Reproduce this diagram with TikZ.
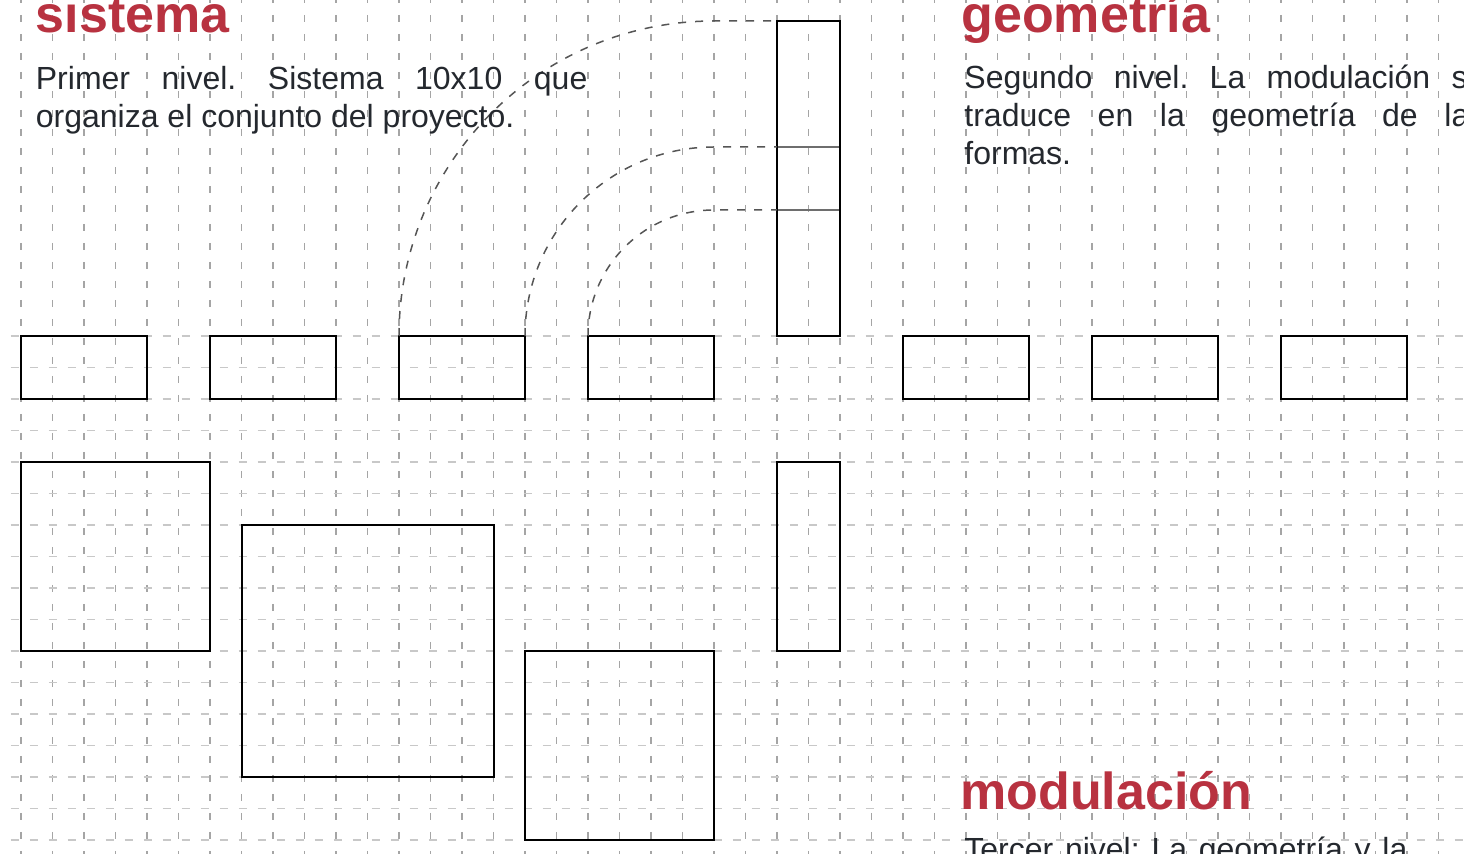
\documentclass[tikz,border=0pt]{standalone}
\usepackage{fontspec}
\setmainfont{Liberation Sans}
\frenchspacing
\definecolor{titlered}{RGB}{184,50,64}
\definecolor{ink}{RGB}{36,40,46}
\definecolor{vgrid}{RGB}{165,165,165}
\definecolor{hgrid}{RGB}{200,200,200}
\definecolor{arcgray}{RGB}{85,85,85}
\definecolor{divgray}{RGB}{110,110,110}
% one module of the 10x10 grid
\newcommand\cel{15.75pt}

\begin{document}
\begin{tikzpicture}[x=0.5pt,y=-0.5pt,
  vline/.style={vgrid, line width=0.6pt, dash pattern=on 3.5pt off 6pt},
  hline/.style={hgrid, line width=0.6pt, dash pattern=on 4pt off 5.5pt},
  module/.style 2 args={draw=black, line width=1pt, inner sep=0pt, outer sep=0pt,
    anchor=north west, minimum width={#1*\cel}, minimum height={#2*\cel}},
  arcline/.style={arcgray, line width=0.75pt, dash pattern=on 4pt off 4.5pt},
  divider/.style={divgray, line width=0.7pt},
  title/.style={anchor=base west, inner sep=0pt, text=titlered,
    font=\bfseries\fontsize{26}{30}\selectfont},
  body/.style={anchor=base west, inner sep=0pt, text=ink,
    font=\fontsize{16}{19}\selectfont, align=justify, text width=#1},
  bodyline/.style={anchor=base west, inner sep=0pt, text=ink,
    font=\fontsize{16}{19}\selectfont}]

\useasboundingbox (0,0) rectangle (1464,854);
\clip (0,0) rectangle (1464,854);

% dashed grid
\foreach \i in {0,...,45}
  \draw[vline] ({21+31.5*\i},-4) -- ({21+31.5*\i},870);
\foreach \j in {0,...,16}
  \draw[hline] (10.7,{336+31.5*\j}) -- (1470,{336+31.5*\j});

% first row of modules
\node[module={4}{2}] (r1) at (21,336) {};
\node[module={4}{2}] (r2) at (210,336) {};
\node[module={4}{2}] (r3) at (399,336) {};
\node[module={4}{2}] (r4) at (588,336) {};
\node[module={4}{2}] (r5) at (903,336) {};
\node[module={4}{2}] (r6) at (1092,336) {};
\node[module={4}{2}] (r7) at (1281,336) {};

% tall module with its divisions
\coordinate (d1) at (777,147);
\coordinate (d2) at (777,210);
\draw[divider] (d1) -- (d1 -| 840,0);
\draw[divider] (d2) -- (d2 -| 840,0);
\node[module={2}{10}] (tall) at (777,21) {};

% rotated modules: quarter arcs around the corner of r4
\draw[arcline] (r3.north west) arc[start angle=180, end angle=270, radius=315] -- (tall.north west);
\draw[arcline] (r3.north east) arc[start angle=180, end angle=270, radius=189] -- (d1);
\draw[arcline] (r4.north west) arc[start angle=180, end angle=270, radius=126] -- (d2);

% lower modules
\node[module={6}{6}] (s1) at (21,462) {};
\node[module={8}{8}] (s2) at (241.5,525) {};
\node[module={6}{6}] (s3) at (525,651) {};
\node[module={2}{6}] (n1) at (777,462) {};

% texts
\node[title] (t1) at (35.5,33) {sistema};
\node[body=275.75pt] (p1) at (35.5,90)
  {Primer nivel. Sistema 10x10 que\linebreak organiza el conjunto del proyecto.};
\node[title] (t2) at (961,33) {geometría};
\node[body=260.5pt] (p2) at (964,89)
  {Segundo nivel. La modulación se\linebreak traduce en la geometría de las\linebreak formas.};
\node[title] (t3) at (960,810) {modulación};
\node[bodyline] (p3) at (964,861) {\makebox[221.5pt][s]{Tercer nivel: La geometría y la}};
\end{tikzpicture}
\end{document}
